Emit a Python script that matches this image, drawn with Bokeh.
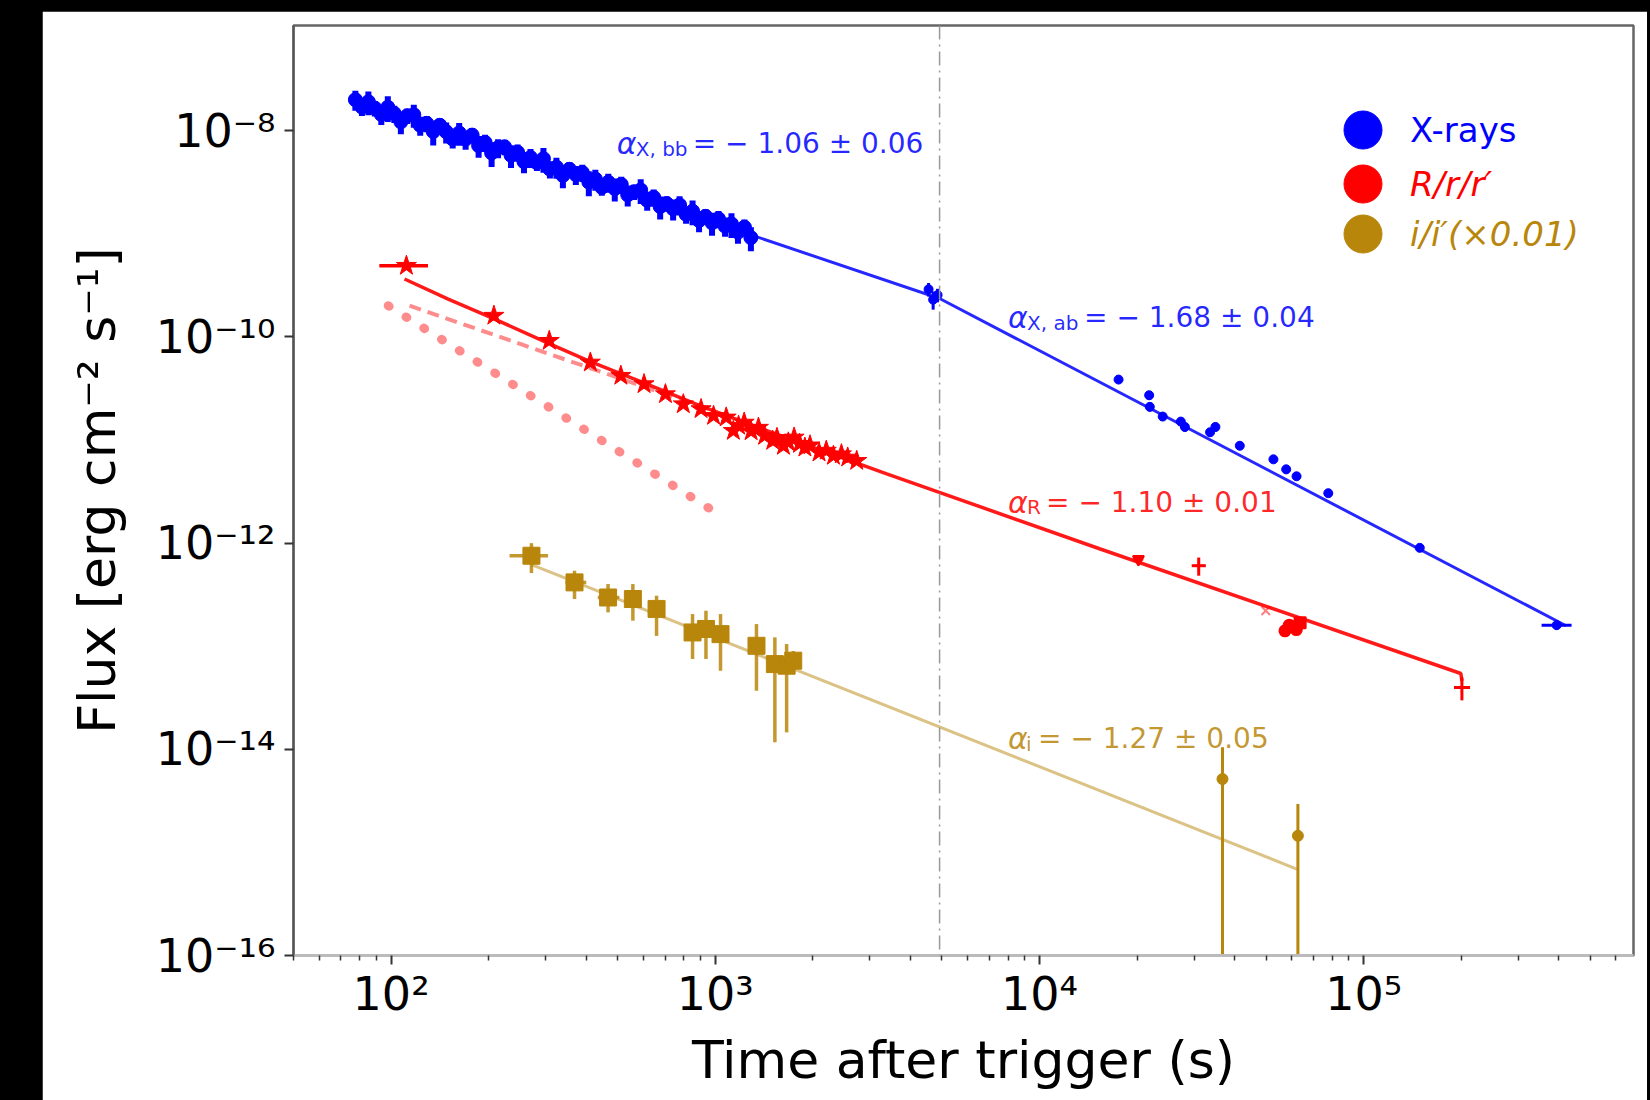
from bokeh.plotting import figure
from bokeh.models import (Range1d, FixedTicker, Span, Legend, LegendItem,
                          ColumnDataSource)
from bokeh.layouts import column
from bokeh.core.properties import value
from bokeh.embed import file_html
from bokeh.resources import INLINE

FONT = "DejaVu Sans"
BLUE = "#0000ff"
RED = "#ff0000"
GOLD = "#b8860b"

# ---------------- X-ray data ----------------
xray_early_t = [77.6, 81.3, 85.1, 89.1, 93.3, 97.7, 102.3, 107.2, 112.2, 117.5,
                123.0, 128.8, 134.9, 141.3, 147.9, 154.9, 162.2, 169.8, 177.8, 186.2,
                195.0, 204.2, 213.8, 223.9, 234.4, 245.5, 257.0, 269.2, 281.8, 295.1,
                309.0, 323.6, 338.8, 354.8, 371.5, 389.0, 407.4, 426.6, 446.7, 467.7,
                489.8, 512.9, 537.0, 562.3, 588.8, 616.6, 645.7, 676.1, 707.9, 741.3,
                776.2, 812.8, 851.1, 891.3, 933.3, 977.2, 1023, 1072, 1122, 1175,
                1230, 1288]
xray_early_f = [2.00e-8, 1.70e-8, 1.91e-8, 1.66e-8, 1.44e-8, 1.69e-8, 1.47e-8, 1.22e-8, 1.40e-8, 1.43e-8,
                1.13e-8, 1.18e-8, 9.84e-9, 1.13e-8, 9.80e-9, 8.32e-9, 9.53e-9, 8.30e-9, 9.08e-9, 7.19e-9,
                7.69e-9, 6.10e-9, 6.84e-9, 6.98e-9, 5.79e-9, 6.19e-9, 5.02e-9, 5.51e-9, 4.90e-9, 5.36e-9,
                4.25e-9, 4.44e-9, 3.69e-9, 4.23e-9, 3.76e-9, 3.93e-9, 3.18e-9, 3.41e-9, 2.83e-9, 3.17e-9,
                2.75e-9, 3.01e-9, 2.39e-9, 2.56e-9, 2.67e-9, 2.12e-9, 2.26e-9, 1.84e-9, 1.97e-9, 1.75e-9,
                1.91e-9, 1.55e-9, 1.66e-9, 1.35e-9, 1.48e-9, 1.28e-9, 1.40e-9, 1.19e-9, 1.25e-9, 1.04e-9,
                1.16e-9, 9.19e-10]
xray_early_relerr = [0.22, 0.18, 0.26, 0.17, 0.21, 0.28, 0.19, 0.24, 0.17, 0.25,
                     0.21, 0.18, 0.27, 0.17, 0.23, 0.19, 0.25, 0.21, 0.17, 0.24,
                     0.19, 0.27, 0.21, 0.17, 0.25, 0.19, 0.23, 0.21, 0.17, 0.27,
                     0.19, 0.23, 0.25, 0.17, 0.21, 0.19, 0.27, 0.23, 0.17, 0.21,
                     0.25, 0.19, 0.23, 0.17, 0.27, 0.21, 0.19, 0.25, 0.17, 0.23,
                     0.21, 0.19, 0.27, 0.23, 0.17, 0.25, 0.19, 0.21, 0.27, 0.23,
                     0.19, 0.26]
xray_early_bin = 0.025   # half-width of the time bins (fraction of t)

xray_late_t = [4550, 4700, 4850, 17540, 21800, 21900, 24000, 27300, 28100, 33600,
               34900, 41500, 52700, 57700, 62100, 77800, 149000, 394000]
xray_late_f = [2.9e-10, 2.3e-10, 2.55e-10, 3.86e-11, 2.72e-11, 2.10e-11, 1.69e-11, 1.51e-11, 1.34e-11, 1.19e-11,
               1.34e-11, 8.8e-12, 6.5e-12, 5.2e-12, 4.45e-12, 3.05e-12, 9.0e-13, 1.6e-13]
xray_late_relerr = [0.15, 0.2, 0.15, 0.08, 0.1, 0.1, 0.08, 0.08, 0.1, 0.1,
                    0.1, 0.08, 0.08, 0.1, 0.08, 0.08, 0.08, 0.1]
xray_last_tlo = [3.54e5]
xray_last_thi = [4.38e5]
xray_last_f = [1.6e-13]

# broken power-law fit (X-rays)
xray_fit_t = [77, 4920, 4.21e5]
xray_fit_f = [1.94e-8, 2.36e-10, 1.58e-13]
break_time = 4920

# ---------------- R band data ----------------
red_t = [111.5, 207.6, 307.6, 411.8, 511.4, 603, 702, 797, 904, 988,
         1081, 1137, 1180, 1228, 1290, 1359, 1420, 1504, 1550, 1623,
         1680, 1751, 1820, 1890, 1960, 2090, 2200, 2315, 2450, 2562, 2731]
red_f = [4.91e-10, 1.61e-10, 9.19e-11, 5.66e-11, 4.21e-11, 3.49e-11, 2.79e-11, 2.23e-11, 2.0e-11, 1.72e-11,
         1.66e-11, 1.23e-11, 1.38e-11, 1.48e-11, 1.22e-11, 1.32e-11, 1.10e-11, 9.84e-12, 1.05e-11, 8.81e-12,
         9.5e-12, 1.06e-11, 9.2e-12, 8.47e-12, 8.9e-12, 7.58e-12, 7.9e-12, 7.05e-12, 7.3e-12, 6.78e-12, 6.29e-12]
red_relerr = [0.08, 0.07, 0.06, 0.06, 0.05, 0.06, 0.05, 0.06, 0.05, 0.06,
              0.07, 0.08, 0.06, 0.07, 0.08, 0.06, 0.07, 0.08, 0.06, 0.07,
              0.08, 0.06, 0.07, 0.06, 0.08, 0.07, 0.06, 0.07, 0.06, 0.07, 0.06]
red_first_tlo = [92]
red_first_thi = [130]

red_late_t = [2.02e4, 3.10e4, 5.72e4, 5.9e4, 6.05e4, 6.2e4, 6.37e4, 2.01e5]
red_late_f = [7.0e-13, 6.04e-13, 1.41e-13, 1.6e-13, 1.52e-13, 1.45e-13, 1.69e-13, 3.98e-14]
red_late_relerr = [0.08, 0.2, 0.1, 0.08, 0.08, 0.1, 0.08, 0.25]
red_late_tlo = [1.95e4, 2.95e4, 5.6e4, 5.8e4, 5.95e4, 6.1e4, 6.25e4, 1.9e5]
red_late_thi = [2.09e4, 3.26e4, 5.85e4, 6.0e4, 6.15e4, 6.3e4, 6.5e4, 2.13e5]
red_late_marker = ["inverted_triangle", "cross", "circle", "circle", "triangle",
                   "circle", "square", "cross"]
red_x_t = [4.99e4]
red_x_f = [2.21e-13]

red_fit_t = [110, 150, 208, 300, 410, 600, 900, 1500, 3380, 15400, 199500, 201000]
red_fit_f = [3.65e-10, 2.33e-10, 1.50e-10, 8.9e-11, 5.8e-11, 3.6e-11, 2.15e-11, 1.18e-11,
             4.7e-12, 8.77e-13, 5.44e-14, 4.6e-14]
red_fs_t = [114, 1000]          # forward shock component (dashed)
red_fs_f = [2.01e-10, 1.9e-11]
red_rs_t = [98, 977]            # reverse shock component (dotted)
red_rs_f = [2.01e-10, 2.09e-12]

# ---------------- i band data (x0.01) ----------------
gold_t = [271, 368, 467, 557, 659, 851, 936, 1038, 1340, 1527, 1660, 1740]
gold_f = [7.55e-13, 4.16e-13, 2.97e-13, 2.87e-13, 2.30e-13, 1.36e-13, 1.47e-13, 1.31e-13,
          1.01e-13, 6.71e-14, 6.47e-14, 7.24e-14]
gold_fhi = [1.00e-12, 5.40e-13, 4.01e-13, 4.01e-13, 3.09e-13, 2.05e-13, 2.21e-13, 2.05e-13,
            1.64e-13, 1.22e-13, 1.05e-13, 9.0e-14]
gold_flo = [5.13e-13, 2.87e-13, 2.13e-13, 1.77e-13, 1.26e-13, 7.52e-14, 7.52e-14, 5.78e-14,
            3.70e-14, 1.17e-14, 1.46e-14, 5.5e-14]
gold_tlo = [232, 345, 434, 535, 640, 830, 912, 1010, 1300, 1490, 1620, 1700]
gold_thi = [305, 400, 506, 580, 678, 872, 960, 1066, 1380, 1565, 1700, 1780]

gold_late_t = [3.67e4, 6.27e4]
gold_late_f = [5.15e-15, 1.45e-15]
gold_late_fhi = [1.05e-14, 2.95e-15]
gold_late_flo = [1e-17, 1e-17]

gold_fit_t = [271, 6.22e4]
gold_fit_f = [6.2e-13, 6.9e-16]

# ---------------- fit labels ----------------
fit_label_t = [496.6, 8000, 8000, 8000]
fit_label_f = [7.48e-9, 1.535e-10, 2.49e-12, 1.26e-14]
fit_label_sub = ["X, bb", "X, ab", "R", "i"]
fit_label_val = ["= − 1.06 ± 0.06", "= − 1.68 ± 0.04", "= − 1.10 ± 0.01", "= − 1.27 ± 0.05"]
fit_label_color = [BLUE, BLUE, RED, GOLD]

legend_labels = ["X-rays", "R/r/r′", "i/i′(×0.01)"]
legend_colors = [BLUE, RED, GOLD]

x_major = [1e2, 1e3, 1e4, 1e5]
x_labels = ["10²", "10³", "10⁴", "10⁵"]
y_major = [1e-16, 1e-14, 1e-12, 1e-10, 1e-8]
y_labels = ["10⁻¹⁶", "10⁻¹⁴", "10⁻¹²", "10⁻¹⁰", "10⁻⁸"]

# ---------------- figure ----------------
p = figure(x_axis_type="log", y_axis_type="log",
           frame_width=1340, frame_height=930,
           x_range=Range1d(50, 6.8e5), y_range=Range1d(1e-16, 1.05e-7),
           output_backend="svg", toolbar_location=None,
           min_border_left=251, min_border_right=14, min_border_top=14,
           min_border_bottom=145)
p.margin = (11, 3, 0, 42)
p.background_fill_color = "white"
p.border_fill_color = "white"
p.grid.visible = False
p.outline_line_color = "#666666"
p.outline_line_width = 2.5

minor = []
for e in range(1, 6):
    for k in range(2, 10):
        v = k * 10 ** e
        if 50 <= v <= 6.8e5:
            minor.append(v)
p.xaxis.ticker = FixedTicker(ticks=x_major, minor_ticks=minor)
p.yaxis.ticker = FixedTicker(ticks=y_major, minor_ticks=[])
p.xaxis.major_label_overrides = dict(zip(x_major, x_labels))
p.yaxis.major_label_overrides = dict(zip(y_major, y_labels))

for ax in (p.xaxis, p.yaxis):
    ax.major_label_text_font = FONT
    ax.major_label_text_font_size = "46px"
    ax.major_label_text_color = "black"
    ax.axis_label_text_font = FONT
    ax.axis_label_text_font_style = "normal"
    ax.axis_label_text_font_size = "52px"
    ax.axis_label_text_color = "black"
    ax.major_tick_in = 0
    ax.major_tick_out = 9
    ax.minor_tick_in = 0
    ax.minor_tick_out = 5
    ax.major_tick_line_width = 2
    ax.minor_tick_line_width = 1.5
    ax.major_tick_line_color = "#333333"
    ax.minor_tick_line_color = "#333333"

p.xaxis.axis_line_color = "#bbbbbb"
p.xaxis.axis_line_width = 3
p.yaxis.axis_line_color = "#555555"
p.yaxis.axis_line_width = 2
p.xaxis.axis_label = "Time after trigger (s)"
p.yaxis.axis_label = "Flux [erg cm⁻² s⁻¹]"
p.xaxis.major_label_standoff = 2
p.xaxis.axis_label_standoff = 6
p.yaxis.major_label_standoff = 9
p.yaxis.axis_label_standoff = 26

# break time marker
p.add_layout(Span(location=break_time, dimension="height", line_color="#999999",
                  line_width=1.5, line_dash="14 5 2 5"))

# ---- fit lines ----
p.line(xray_fit_t, xray_fit_f, line_color=BLUE, line_width=3, line_alpha=0.85)
p.line(red_fit_t, red_fit_f, line_color=RED, line_width=3.5, line_alpha=0.9)
p.line(red_fs_t, red_fs_f, line_color=RED, line_width=4, line_alpha=0.45,
       line_dash="12 7")
p.line(red_rs_t, red_rs_f, line_color=RED, line_width=9, line_alpha=0.45,
       line_dash="1 20", line_cap="round")
p.line(gold_fit_t, gold_fit_f, line_color=GOLD, line_width=3, line_alpha=0.5)

# ---- X-ray points ----
xe = ColumnDataSource(dict(
    t=xray_early_t, f=xray_early_f,
    tlo=[t * (1 - xray_early_bin) for t in xray_early_t],
    thi=[t * (1 + xray_early_bin) for t in xray_early_t],
    lo=[f * (1 - e) for f, e in zip(xray_early_f, xray_early_relerr)],
    hi=[f * (1 + e) for f, e in zip(xray_early_f, xray_early_relerr)]))
p.segment(x0="t", y0="lo", x1="t", y1="hi", source=xe, line_color=BLUE, line_width=6)
p.segment(x0="tlo", y0="f", x1="thi", y1="f", source=xe, line_color=BLUE, line_width=6)
p.scatter(x="t", y="f", source=xe, marker="circle", size=14, color=BLUE)

xl = ColumnDataSource(dict(
    t=xray_late_t, f=xray_late_f,
    lo=[f * (1 - e) for f, e in zip(xray_late_f, xray_late_relerr)],
    hi=[f * (1 + e) for f, e in zip(xray_late_f, xray_late_relerr)]))
p.segment(x0="t", y0="lo", x1="t", y1="hi", source=xl, line_color=BLUE, line_width=3)
p.scatter(x="t", y="f", source=xl, marker="circle", size=9, color=BLUE)
p.segment(x0=xray_last_tlo, y0=xray_last_f, x1=xray_last_thi, y1=xray_last_f,
          line_color=BLUE, line_width=3)

# ---- R band points ----
rs = ColumnDataSource(dict(
    t=red_t, f=red_f,
    lo=[f * (1 - e) for f, e in zip(red_f, red_relerr)],
    hi=[f * (1 + e) for f, e in zip(red_f, red_relerr)]))
p.segment(x0="t", y0="lo", x1="t", y1="hi", source=rs, line_color=RED, line_width=3)
p.scatter(x="t", y="f", source=rs, marker="star", size=21, color=RED)
p.segment(x0=red_first_tlo, y0=red_f[:1], x1=red_first_thi, y1=red_f[:1],
          line_color=RED, line_width=3.5)

rl = ColumnDataSource(dict(
    t=red_late_t, f=red_late_f, m=red_late_marker, tlo=red_late_tlo, thi=red_late_thi,
    lo=[f * (1 - e) for f, e in zip(red_late_f, red_late_relerr)],
    hi=[f * (1 + e) for f, e in zip(red_late_f, red_late_relerr)]))
p.segment(x0="t", y0="lo", x1="t", y1="hi", source=rl, line_color=RED, line_width=3)
p.segment(x0="tlo", y0="f", x1="thi", y1="f", source=rl, line_color=RED, line_width=3)
p.scatter(x="t", y="f", source=rl, marker="m", size=11, color=RED, line_width=2)
p.scatter(red_x_t, red_x_f, marker="x", size=12, line_color=RED, line_alpha=0.5,
          line_width=2)

# ---- i band points ----
gs = ColumnDataSource(dict(t=gold_t, f=gold_f, lo=gold_flo, hi=gold_fhi,
                           tlo=gold_tlo, thi=gold_thi))
p.segment(x0="t", y0="lo", x1="t", y1="hi", source=gs, line_color=GOLD, line_width=3.5,
          line_alpha=0.85)
p.segment(x0="tlo", y0="f", x1="thi", y1="f", source=gs, line_color=GOLD, line_width=3.5,
          line_alpha=0.85)
p.scatter(x="t", y="f", source=gs, marker="square", size=17, color=GOLD)

gl = ColumnDataSource(dict(t=gold_late_t, f=gold_late_f, lo=gold_late_flo,
                           hi=gold_late_fhi))
p.segment(x0="t", y0="lo", x1="t", y1="hi", source=gl, line_color=GOLD, line_width=3)
p.scatter(x="t", y="f", source=gl, marker="circle", size=11, color=GOLD)

# ---- fit labels ----
ls = ColumnDataSource(dict(t=fit_label_t, f=fit_label_f, sub=fit_label_sub,
                           val=fit_label_val, c=fit_label_color,
                           sub_dx=[19, 19, 19, 18], val_dx=[76, 76, 38, 30]))
p.text(x="t", y="f", text=value("α"), source=ls, text_color="c", text_alpha=0.85,
       text_font=value(FONT), text_font_style="italic", text_font_size="30px",
       text_baseline="alphabetic")
p.text(x="t", y="f", text="sub", source=ls, text_color="c", text_alpha=0.85,
       text_font=value(FONT), text_font_size="20px", x_offset="sub_dx", y_offset=5,
       text_baseline="alphabetic")
p.text(x="t", y="f", text="val", source=ls, text_color="c", text_alpha=0.85,
       text_font=value(FONT), text_font_size="28px", x_offset="val_dx",
       text_baseline="alphabetic")

# ---- legend (one per entry so each label keeps its colour) ----
# swatch renderers hold a single point placed outside the visible ranges
leg_styles = ["normal", "italic", "italic"]
leg_bottom = [778, 724, 674]
for label, col, style, ybot in zip(legend_labels, legend_colors, leg_styles, leg_bottom):
    r = p.scatter(x=[1e9], y=[1e-20], marker="circle", color=col)
    lg = Legend(items=[LegendItem(label=label, renderers=[r])],
                location=(1022, ybot), glyph_width=95, glyph_height=95,
                label_standoff=0, padding=0, margin=0, spacing=0,
                border_line_alpha=0, background_fill_alpha=0,
                label_text_font=FONT, label_text_font_size="34px",
                label_text_color=col, label_text_font_style=style)
    p.add_layout(lg)

page = column(p, styles={"background-color": "black"}, width=1650, height=1100)
open("out.html", "w").write(file_html(page, INLINE))
